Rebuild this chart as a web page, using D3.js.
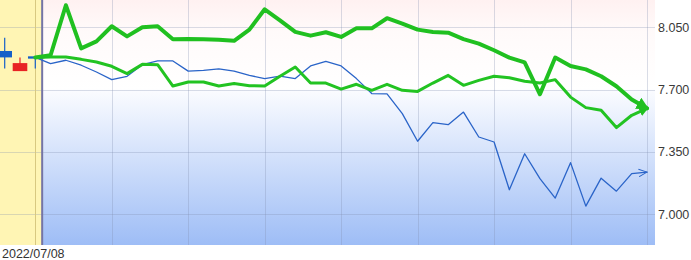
<!DOCTYPE html>
<html>
<head>
<meta charset="utf-8">
<script src="https://cdn.jsdelivr.net/npm/d3@7"></script>
<style>
body{margin:0;background:#fff;}
svg{display:block;font-family:Arial,"Liberation Sans",sans-serif;}
</style>
</head>
<body>
<div id="chart"></div>
<script>
// data
const dateLabel = "2022/07/08";
const yTicks = [7.000, 7.350, 7.700, 8.050];

// last three real candles (index -2..0)
const candleIdx = [-2, -1, 0];
const candleOpen = [7.881, 7.849, 7.874];
const candleClose = [7.917, 7.804, 7.887];
const candleHigh = [7.992, 7.881, 7.889];
const candleLow = [7.818, 7.804, 7.818];

// forecast lines, index 0..40
const upperGreen = [7.881,7.893,8.174,7.932,7.971,8.056,7.999,8.050,8.056,7.983,
  7.984,7.983,7.980,7.974,8.037,8.151,8.089,8.024,8.003,8.022,
  7.996,8.044,8.044,8.101,8.071,8.037,8.024,8.020,7.984,7.958,
  7.921,7.880,7.853,7.674,7.880,7.833,7.814,7.775,7.719,7.644,7.595];
const lowerGreen = [7.881,7.883,7.883,7.870,7.855,7.831,7.790,7.842,7.840,7.720,
  7.743,7.743,7.720,7.734,7.722,7.720,7.775,7.827,7.737,7.737,
  7.703,7.730,7.696,7.730,7.696,7.690,7.737,7.780,7.724,7.752,
  7.775,7.767,7.747,7.737,7.756,7.658,7.599,7.584,7.487,7.556,7.595];
const blueLine = [7.881,7.846,7.865,7.837,7.799,7.756,7.775,7.840,7.861,7.861,
  7.804,7.808,7.816,7.804,7.780,7.762,7.776,7.762,7.833,7.859,
  7.833,7.762,7.678,7.676,7.565,7.410,7.515,7.503,7.574,7.434,
  7.406,7.138,7.340,7.200,7.091,7.290,7.046,7.203,7.130,7.228,7.237];

function main_chart(){
  const w = 691, h = 260;
  const plotW = 655, plotH = 245;

  const svg = d3.select("#chart").append("svg")
    .attr("width", w).attr("height", h)
    .attr("viewBox", [0, 0, w, h]);

  const x = d3.scaleLinear().domain([-2, 40]).range([4.7, 647]);
  const y = d3.scaleLinear().domain([7.0, 8.05]).range([214.3, 27.3]);
  const nowX = x(0.45);   // the dark "today" line

  const defs = svg.append("defs");
  const gTop = defs.append("linearGradient").attr("id", "gTop")
    .attr("x1", 0).attr("y1", 0).attr("x2", 0).attr("y2", 1);
  gTop.append("stop").attr("offset", "0%").attr("stop-color", "#fff1f1");
  gTop.append("stop").attr("offset", "35%").attr("stop-color", "#fffafa");
  gTop.append("stop").attr("offset", "100%").attr("stop-color", "#ffffff");
  const gBot = defs.append("linearGradient").attr("id", "gBot")
    .attr("x1", 0).attr("y1", 0).attr("x2", 0).attr("y2", 1);
  gBot.append("stop").attr("offset", "0%").attr("stop-color", "#fbfcff");
  gBot.append("stop").attr("offset", "100%").attr("stop-color", "#9ebdf6");

  defs.append("clipPath").attr("id", "plotClip")
    .append("rect").attr("x", 0).attr("y", 0).attr("width", plotW).attr("height", plotH);

  // arrow markers
  defs.append("marker").attr("id", "arrGreen")
    .attr("viewBox", "0 -5 10 10").attr("refX", 8).attr("refY", 0)
    .attr("markerWidth", 3.2).attr("markerHeight", 3.2).attr("orient", "auto")
    .append("path").attr("d", "M0,-5L10,0L0,5Z").attr("fill", "#20c020");
  defs.append("marker").attr("id", "arrBlue")
    .attr("viewBox", "0 -6 12 12").attr("refX", 11).attr("refY", 0)
    .attr("markerWidth", 9).attr("markerHeight", 9).attr("markerUnits", "userSpaceOnUse")
    .attr("orient", "auto")
    .append("path").attr("d", "M0,-5L11,0L0,5").attr("fill", "none")
    .attr("stroke", "#2a64c8").attr("stroke-width", 1.3);

  const splitY = y(7.7);
  // backgrounds
  svg.append("rect").attr("x", 0).attr("y", 0).attr("width", plotW).attr("height", splitY)
    .attr("fill", "url(#gTop)");
  svg.append("rect").attr("x", 0).attr("y", splitY).attr("width", plotW).attr("height", plotH - splitY)
    .attr("fill", "url(#gBot)");
  svg.append("rect").attr("x", 0).attr("y", 0).attr("width", nowX).attr("height", plotH)
    .attr("fill", "#fff5b4");

  // grid
  const grid = svg.append("g").attr("clip-path", "url(#plotClip)");
  grid.selectAll("line.h").data(yTicks).enter().append("line")
    .attr("x1", 0).attr("x2", plotW)
    .attr("y1", d => Math.round(y(d)) + 0.5).attr("y2", d => Math.round(y(d)) + 0.5)
    .attr("stroke", "#8090b0").attr("stroke-opacity", 0.3);
  grid.selectAll("line.v").data(d3.range(0, 41, 5)).enter().append("line")
    .attr("x1", d => Math.round(x(d)) + 0.5).attr("x2", d => Math.round(x(d)) + 0.5)
    .attr("y1", 0).attr("y2", plotH)
    .attr("stroke", d => d === 0 ? "#d8c880" : "#8090b0")
    .attr("stroke-opacity", d => d === 0 ? 1 : 0.3);

  // candles
  const cg = svg.append("g").attr("clip-path", "url(#plotClip)");
  const candles = candleIdx.map((d, i) => ({i: d, o: candleOpen[i], c: candleClose[i], hi: candleHigh[i], lo: candleLow[i]}));
  cg.selectAll("line.wick").data(candles).enter().append("line")
    .attr("x1", d => x(d.i)).attr("x2", d => x(d.i))
    .attr("y1", d => y(d.hi)).attr("y2", d => y(d.lo))
    .attr("stroke", d => d.c >= d.o ? "#1560c8" : "#e82424").attr("stroke-width", 1.2);
  cg.selectAll("rect.body").data(candles).enter().append("rect")
    .attr("x", d => x(d.i) - 7.3).attr("width", 14.6)
    .attr("y", d => y(Math.max(d.o, d.c)))
    .attr("height", d => Math.max(2, Math.abs(y(d.o) - y(d.c))))
    .attr("fill", d => d.c >= d.o ? "#1560c8" : "#e82424");

  // now line
  svg.append("line").attr("x1", nowX).attr("x2", nowX).attr("y1", 0).attr("y2", plotH)
    .attr("stroke", "#7474a6").attr("stroke-width", 2);

  // forecast lines
  const line = d3.line().x((d, i) => x(i)).y(d => y(d));
  const lg = svg.append("g").attr("clip-path", "url(#plotClip)").attr("fill", "none")
    .attr("stroke-linejoin", "round").attr("stroke-linecap", "round");
  lg.append("path").datum(blueLine).attr("d", line)
    .attr("stroke", "#2a64c8").attr("stroke-width", 1.3)
    .attr("marker-end", "url(#arrBlue)");
  lg.append("path").datum(lowerGreen).attr("d", line)
    .attr("stroke", "#22c322").attr("stroke-width", 3)
    .attr("marker-end", "url(#arrGreen)");
  lg.append("path").datum(upperGreen).attr("d", line)
    .attr("stroke", "#20c020").attr("stroke-width", 4)
    .attr("marker-end", "url(#arrGreen)");

  // right axis labels
  svg.append("g").selectAll("text").data(yTicks).enter().append("text")
    .attr("x", 658).attr("y", d => y(d) + 4.5)
    .attr("font-size", 12.5).attr("fill", "#3a3a3a")
    .text(d => d3.format(".3f")(d));

  // date label
  svg.append("text").attr("x", 2).attr("y", 257.5)
    .attr("font-size", 12.5).attr("fill", "#333")
    .text(dateLabel);

  return svg.node();
}
main_chart();
</script>
</body>
</html>
